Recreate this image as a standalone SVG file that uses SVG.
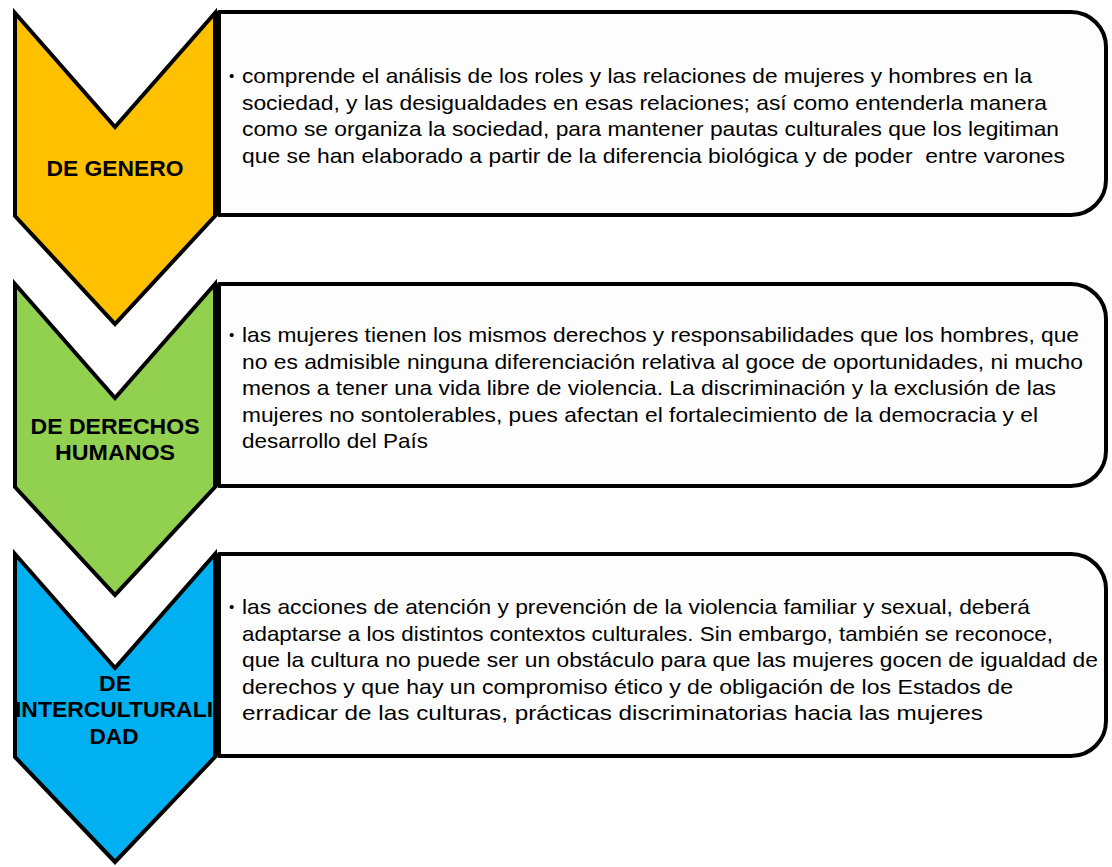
<svg xmlns="http://www.w3.org/2000/svg" width="1112" height="867" viewBox="0 0 1112 867">
<style>
.box{fill:#fdfdfd;stroke:#000;stroke-width:4;stroke-linejoin:round}
.chev{stroke:#000;stroke-width:4;stroke-linejoin:miter;stroke-miterlimit:10}
.body{font-family:"Liberation Sans",Arial,sans-serif;font-size:21px;fill:#000}
.bul{font-family:"Liberation Sans",Arial,sans-serif;font-size:15px;fill:#000}
.lab{font-family:"Liberation Sans",Arial,sans-serif;font-size:22px;font-weight:bold;fill:#000;text-anchor:middle}
</style>
<rect width="1112" height="867" fill="#fff"/>
<g id="connectors"/>

<g id="box-genero">
<path class="box" d="M219,12 H1071 A35,35 0 0 1 1106,47 V180 A35,35 0 0 1 1071,215 H219 Z"/>
<text class="bul" x="229" y="81">•</text>
<text class="body" x="242" y="83" textLength="790" lengthAdjust="spacingAndGlyphs">comprende el análisis de los roles y las relaciones de mujeres y hombres en la</text>
<text class="body" x="242" y="109.5" textLength="805" lengthAdjust="spacingAndGlyphs">sociedad, y las desigualdades en esas relaciones; así como entenderla manera</text>
<text class="body" x="242" y="136" textLength="817" lengthAdjust="spacingAndGlyphs">como se organiza la sociedad, para mantener pautas culturales que los legitiman</text>
<text class="body" x="242" y="162.5" textLength="823" lengthAdjust="spacingAndGlyphs" xml:space="preserve">que se han elaborado a partir de la diferencia biológica y de poder  entre varones</text>
</g>
<g id="chevron-genero">
<path class="chev" fill="#FFC000" d="M15,13 L115,127 L215,13 L215,216 L115,324 L15,216 Z"/>
<text class="lab" x="115" y="176" textLength="137" lengthAdjust="spacingAndGlyphs">DE GENERO</text>
</g>

<g id="box-derechos">
<path class="box" d="M219,284 H1071 A35,35 0 0 1 1106,319 V451 A35,35 0 0 1 1071,486 H219 Z"/>
<text class="bul" x="229" y="340">•</text>
<text class="body" x="242" y="342" textLength="837" lengthAdjust="spacingAndGlyphs">las mujeres tienen los mismos derechos y responsabilidades que los hombres, que</text>
<text class="body" x="242" y="368.5" textLength="841" lengthAdjust="spacingAndGlyphs">no es admisible ninguna diferenciación relativa al goce de oportunidades, ni mucho</text>
<text class="body" x="242" y="395" textLength="814" lengthAdjust="spacingAndGlyphs">menos a tener una vida libre de violencia. La discriminación y la exclusión de las</text>
<text class="body" x="242" y="421.5" textLength="796" lengthAdjust="spacingAndGlyphs">mujeres no sontolerables, pues afectan el fortalecimiento de la democracia y el</text>
<text class="body" x="242" y="448" textLength="186" lengthAdjust="spacingAndGlyphs">desarrollo del País</text>
</g>
<g id="chevron-derechos">
<path class="chev" fill="#92D050" d="M15,284 L115,398 L215,284 L215,487 L115,595 L15,487 Z"/>
<text class="lab" x="115" y="434" textLength="169" lengthAdjust="spacingAndGlyphs">DE DERECHOS</text>
<text class="lab" x="115" y="460" textLength="120" lengthAdjust="spacingAndGlyphs">HUMANOS</text>
</g>

<g id="box-interculturalidad">
<path class="box" d="M219,554 H1071 A35,35 0 0 1 1106,589 V721 A35,35 0 0 1 1071,756 H219 Z"/>
<text class="bul" x="229" y="612">•</text>
<text class="body" x="242" y="614" textLength="788" lengthAdjust="spacingAndGlyphs">las acciones de atención y prevención de la violencia familiar y sexual, deberá</text>
<text class="body" x="242" y="640.5" textLength="811" lengthAdjust="spacingAndGlyphs">adaptarse a los distintos contextos culturales. Sin embargo, también se reconoce,</text>
<text class="body" x="242" y="667" textLength="856" lengthAdjust="spacingAndGlyphs">que la cultura no puede ser un obstáculo para que las mujeres gocen de igualdad de</text>
<text class="body" x="242" y="693.5" textLength="771" lengthAdjust="spacingAndGlyphs">derechos y que hay un compromiso ético y de obligación de los Estados de</text>
<text class="body" x="242" y="720" textLength="741" lengthAdjust="spacingAndGlyphs">erradicar de las culturas, prácticas discriminatorias hacia las mujeres</text>
</g>
<g id="chevron-interculturalidad">
<path class="chev" fill="#00B0F0" d="M15,554 L115,668 L215,554 L215,757 L115,862 L15,757 Z"/>
<text class="lab" x="115" y="691" textLength="32" lengthAdjust="spacingAndGlyphs">DE</text>
<text class="lab" x="114" y="717" textLength="198" lengthAdjust="spacingAndGlyphs">INTERCULTURALI</text>
<text class="lab" x="114" y="744" textLength="49" lengthAdjust="spacingAndGlyphs">DAD</text>
</g>
</svg>
